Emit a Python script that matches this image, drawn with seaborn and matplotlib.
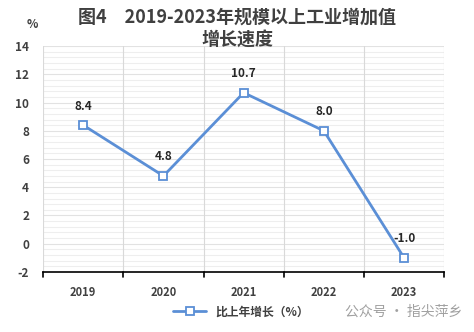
import matplotlib
matplotlib.use("Agg")
import matplotlib.pyplot as plt
import seaborn as sns
import pandas as pd
import numpy as np
from matplotlib.ticker import MultipleLocator

years = ["2019", "2020", "2021", "2022", "2023"]
growth = [8.4, 4.8, 10.7, 8.0, -1.0]
series_name = "比上年增长（%）"
title_lines = ["图4　2019-2023年规模以上工业增加值", "增长速度"]

sns.set_theme(style="white")
plt.rcParams['font.family'] = ['Noto Sans CJK SC', 'DejaVu Sans']
plt.rcParams['axes.unicode_minus'] = False

df = pd.DataFrame({"year": years, "value": growth})

fig = plt.figure(figsize=(4.74, 3.32), dpi=100)
ax = fig.add_axes([0.091, 0.181, 0.846, 0.680])

color = "#5B8FD6"
sns.lineplot(data=df, x="year", y="value", ax=ax, color=color, linewidth=2,
             marker="s", markersize=6, markerfacecolor="white",
             markeredgecolor=color, markeredgewidth=1.3, label=series_name,
             zorder=3)

ax.set_xlim(-0.5, len(years) - 0.5)
ax.set_ylim(-2, 14)
ax.yaxis.set_major_locator(MultipleLocator(2))
ax.yaxis.set_minor_locator(MultipleLocator(0.4))
ax.grid(which="minor", axis="y", color="#EEEEEE", linewidth=0.8)
ax.grid(which="major", axis="y", color="#E2E2E2", linewidth=0.8)
ax.set_xticks(np.arange(len(years)))
ax.set_xticklabels(years)
for b in np.arange(-0.5, len(years), 1.0):
    ax.axvline(b, color="#D9D9D9", linewidth=0.8, zorder=1)
ax.set_axisbelow(True)

for s in ["top", "right", "left"]:
    ax.spines[s].set_visible(False)
ax.spines["bottom"].set_position(("data", -2))
ax.spines["bottom"].set_color("black")
ax.spines["bottom"].set_linewidth(1.2)

ax.tick_params(axis="x", length=0, pad=10, labelsize=8, labelcolor="#404040")
ax.tick_params(axis="y", which="both", length=0, pad=10, labelsize=8.5, labelcolor="#404040")
for lbl in ax.get_xticklabels() + ax.get_yticklabels():
    lbl.set_fontweight("bold")
for b in np.arange(-0.5, len(years), 1.0):
    ax.plot([b, b], [-2, -2.35], color="black", linewidth=1.2, clip_on=False)

ax.set_xlabel("")
ax.set_ylabel("")

for i, v in enumerate(growth):
    ax.annotate(f"{v:.1f}", (i, v), xytext=(0, 9), textcoords="offset points",
                ha="center", va="bottom", fontsize=8.5, fontweight="bold",
                color="#262626")

fig.text(0.5, 0.949, title_lines[0], ha="center", va="center", fontsize=13,
         fontweight="bold", color="#404040")
fig.text(0.5, 0.880, title_lines[1], ha="center", va="center", fontsize=13,
         fontweight="bold", color="#404040")
fig.text(0.068, 0.925, "%", ha="center", va="center", fontsize=8.5,
         fontweight="bold", color="#404040")

leg = ax.legend(loc="center", bbox_to_anchor=(0.494, -0.177),
                frameon=False, handlelength=2.8,
                prop={"weight": "bold", "size": 8.5})
for t in leg.get_texts():
    t.set_color("#404040")

fig.text(0.728, 0.060, "公众号 · 指尖萍乡", ha="left", va="center",
         fontsize=10, color="#A0A0A0")

fig.savefig("out.png", dpi=100, facecolor="white")
